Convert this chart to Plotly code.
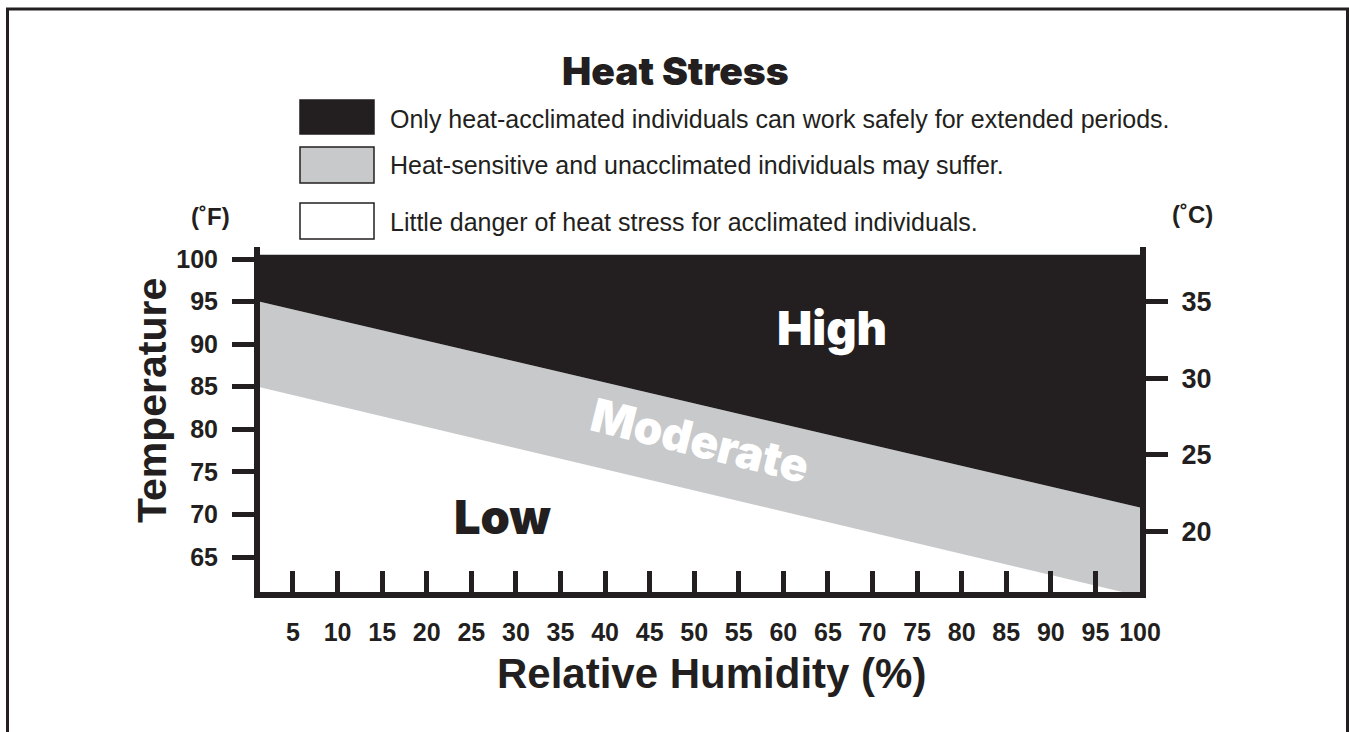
import plotly.graph_objects as go

# ---------------- data ----------------
humidity = [0, 100]                 # % relative humidity (boundary end points)
high_lower = [95.3, 70.8]           # °F boundary between Moderate and High
moderate_lower = [85.25, 60.4]      # °F boundary between Low and Moderate
chart_top = [100.5, 100.5]          # °F top of shaded area

x_ticks = [5, 10, 15, 20, 25, 30, 35, 40, 45, 50, 55, 60, 65, 70, 75, 80, 85, 90, 95, 100]
f_ticks = [65, 70, 75, 80, 85, 90, 95, 100]
c_ticks = [20, 25, 30, 35]

zone_labels = ["High", "Moderate", "Low"]
legend_texts = [
    "Only heat-acclimated individuals can work safely for extended periods.",
    "Heat-sensitive and unacclimated individuals may suffer.",
    "Little danger of heat stress for acclimated individuals.",
]

def f_to_c(v):
    return (v - 32) / 1.8

# ---------------- styles ----------------
INK = "#231f20"
GRAY = "#c8c9cb"
W, H = 1349, 732
L, R, T, B = 260, 209, 247, 140
PW, PH = W - L - R, H - T - B
XR = [1.3, 100]
YR = [60.89, 101.41]

def px(xp):
    return (xp - L) / PW

def py(yp):
    return (H - B - yp) / PH

BASE = "Liberation Sans"
HEAVY = dict(family="Inter", weight=900)

fig = go.Figure()
fig.add_trace(go.Scatter(x=humidity, y=moderate_lower, mode="lines",
                         line=dict(width=0, color=GRAY), hoverinfo="skip", showlegend=False))
fig.add_trace(go.Scatter(x=humidity, y=high_lower, mode="lines", fill="tonexty",
                         fillcolor=GRAY, line=dict(width=0, color=GRAY),
                         hoverinfo="skip", showlegend=False))
fig.add_trace(go.Scatter(x=humidity, y=chart_top, mode="lines", fill="tonexty",
                         fillcolor=INK, line=dict(width=0, color=INK),
                         hoverinfo="skip", showlegend=False))
# invisible helper to activate the Celsius axis
fig.add_trace(go.Scatter(x=humidity, y=[f_to_c(v) for v in high_lower], yaxis="y2",
                         mode="lines", line=dict(width=0, color="rgba(0,0,0,0)"),
                         hoverinfo="skip", showlegend=False))

tickfont = dict(family=BASE, size=25, color=INK, weight="bold")

fig.update_layout(
    width=W, height=H,
    margin=dict(l=L, r=R, t=T, b=B, pad=0),
    paper_bgcolor="white", plot_bgcolor="white",
    showlegend=False,
    xaxis=dict(range=XR, tickmode="array", tickvals=x_ticks,
               ticks="inside", ticklen=21, tickwidth=5, tickcolor=INK,
               showline=True, linewidth=6, linecolor=INK,
               showgrid=False, zeroline=False, tickfont=tickfont,
               ticklabelstandoff=13, fixedrange=True),
    yaxis=dict(range=YR, tickmode="array", tickvals=f_ticks,
               ticks="outside", ticklen=22, tickwidth=5, tickcolor=INK,
               showline=True, linewidth=6, linecolor=INK,
               showgrid=False, zeroline=False, tickfont=tickfont,
               ticklabelstandoff=9, fixedrange=True),
    yaxis2=dict(range=[f_to_c(YR[0]), f_to_c(YR[1])], overlaying="y", side="right",
                tickmode="array", tickvals=c_ticks,
                ticks="outside", ticklen=22, tickwidth=5, tickcolor=INK,
                showline=True, linewidth=6, linecolor=INK,
                showgrid=False, zeroline=False,
                tickfont=dict(family=BASE, size=27, color=INK, weight="bold"),
                ticklabelstandoff=8, fixedrange=True),
)

# outer frame
fig.add_shape(type="path", xref="paper", yref="paper",
              path=f"M {px(7.5)},{py(745)} L {px(7.5)},{py(9)} L {px(1347.5)},{py(9)} L {px(1347.5)},{py(745)}",
              line=dict(color=INK, width=3))

# legend boxes
box_fills = [INK, GRAY, "white"]
box_y = [(100, 134), (147, 183), (203, 239)]
for fillc, (y0, y1) in zip(box_fills, box_y):
    fig.add_shape(type="rect", xref="paper", yref="paper",
                  x0=px(300), x1=px(374), y0=py(y1), y1=py(y0),
                  fillcolor=fillc, line=dict(color=INK, width=1.5))

text_y = [119, 165, 222]
for txt, yy in zip(legend_texts, text_y):
    fig.add_annotation(text=txt, xref="paper", yref="paper", x=px(388), y=py(yy),
                       xanchor="left", yanchor="middle", showarrow=False,
                       font=dict(family=BASE, size=25, color=INK))

# title
fig.add_annotation(text="Heat Stress", xref="paper", yref="paper", x=px(675), y=py(70),
                   xanchor="center", yanchor="middle", showarrow=False,
                   font=dict(size=39, color=INK, **HEAVY))

# unit labels
fig.add_annotation(text="(˚F)", xref="paper", yref="paper", x=px(210), y=py(216),
                   xanchor="center", yanchor="middle", showarrow=False,
                   font=dict(family=BASE, size=24, color=INK, weight="bold"))
fig.add_annotation(text="(˚C)", xref="paper", yref="paper", x=px(1192), y=py(215),
                   xanchor="center", yanchor="middle", showarrow=False,
                   font=dict(family=BASE, size=24, color=INK, weight="bold"))

# axis titles
fig.add_annotation(text="Temperature", xref="paper", yref="paper", x=px(152), y=py(401),
                   xanchor="center", yanchor="middle", showarrow=False, textangle=-90,
                   font=dict(family=BASE, size=41, color=INK, weight="bold"))
fig.add_annotation(text="Relative Humidity (%)", xref="paper", yref="paper", x=px(711), y=py(673),
                   xanchor="center", yanchor="middle", showarrow=False,
                   font=dict(family=BASE, size=42, color=INK, weight="bold"))

# zone labels
zone_x = [65.45, 50.65, 28.55]
zone_y = [91.9, 78.7, 69.7]
zone_colors = ["white", "white", INK]
zone_sizes = [47, 46, 47]
zone_angles = [0, 14, 0]
for lab, zx, zy, zc, zs, za in zip(zone_labels, zone_x, zone_y, zone_colors, zone_sizes, zone_angles):
    fig.add_annotation(text=lab, x=zx, y=zy, xref="x", yref="y", showarrow=False,
                       xanchor="center", yanchor="middle", textangle=za,
                       font=dict(size=zs, color=zc, **HEAVY))

fig.write_html("out.html", config={"displayModeBar": False},
               post_script="document.body.style.margin='0px';document.body.style.overflow='hidden';")
